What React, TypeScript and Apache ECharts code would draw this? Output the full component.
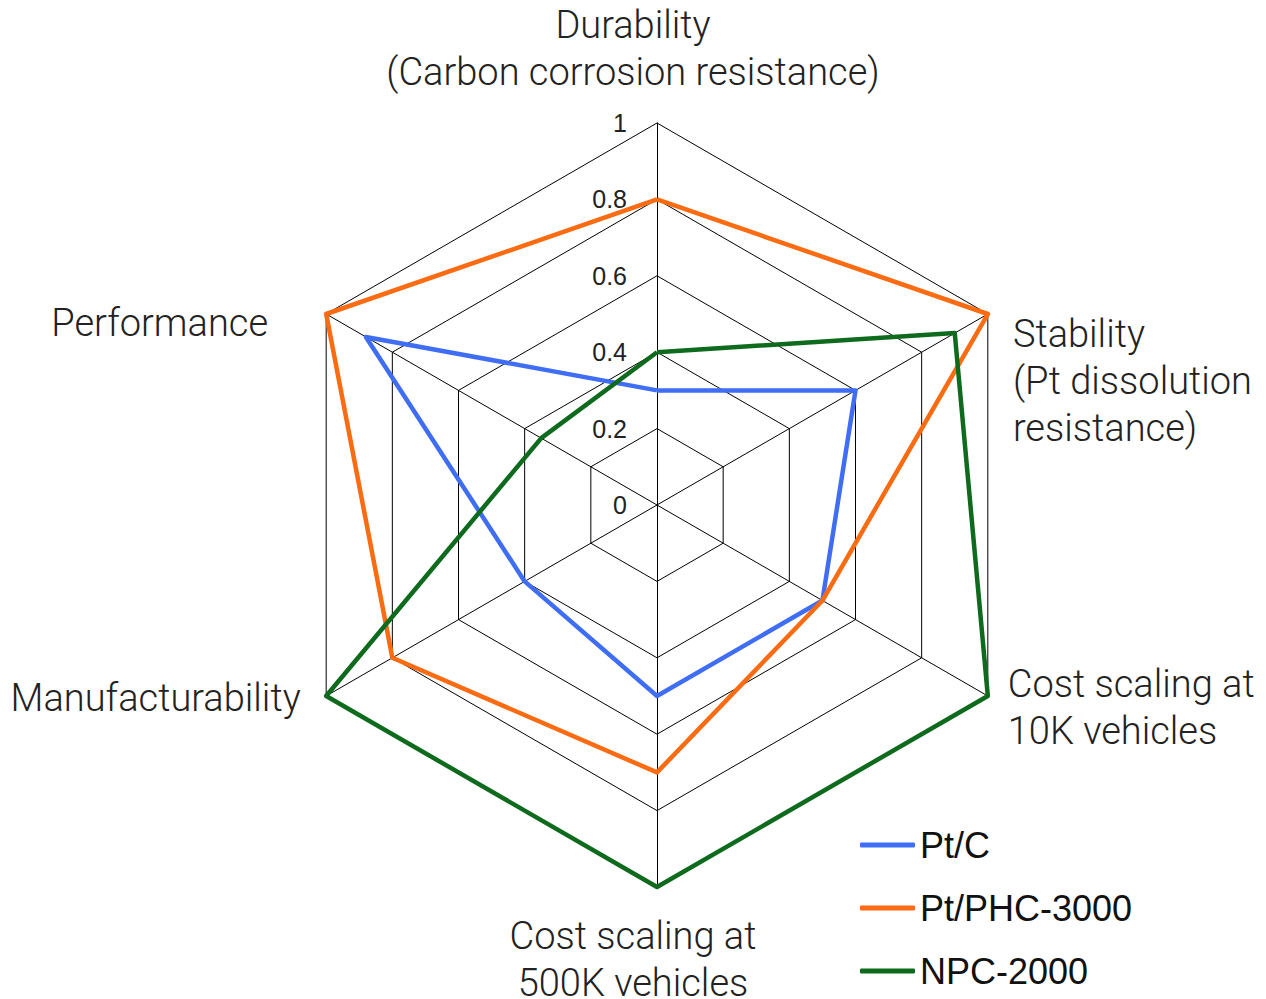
import React, { useEffect, useRef } from "react";
import * as echarts from "echarts";

const indicatorNames = [
  "Durability\n(Carbon corrosion resistance)",
  "Performance",
  "Manufacturability",
  "Cost scaling at\n500K vehicles",
  "Cost scaling at\n10K vehicles",
  "Stability\n(Pt dissolution\nresistance)",
];
const indicatorMax = [1, 1, 1, 1, 1, 1];
const seriesNames = ["Pt/C", "Pt/PHC-3000", "NPC-2000"];
const ptC = [0.3, 0.88, 0.4, 0.5, 0.5, 0.6];
const ptPHC3000 = [0.8, 1.0, 0.8, 0.7, 0.5, 1.0];
const npc2000 = [0.4, 0.35, 1.0, 1.0, 1.0, 0.9];
const seriesColors = ["#3f6ef5", "#fb6b12", "#0e6a1c"];

// per-indicator name placement tweaks
const nameGaps = [28, 29, 4, 25, 23, 7];
const nameVAligns: (string | undefined)[] = [undefined, "top", "middle", undefined, undefined, "top"];
const namePaddings = [
  [0, 48, 0, 0],
  [0, 33, 0, 0],
  [0, 22, 0, 0],
  [0, 48, 0, 0],
  [0, 0, 0, 0],
  [0, 0, 0, 19],
];

export default function App() {
  const ref = useRef<HTMLDivElement>(null);
  useEffect(() => {
    if (!ref.current) return;
    const chart = echarts.init(ref.current, undefined, { renderer: "svg" });
    const values = [ptC, ptPHC3000, npc2000];
    chart.setOption({
      animation: false,
      backgroundColor: "#ffffff",
      legend: {
        orient: "vertical",
        left: 860,
        top: 827,
        padding: 0,
        itemWidth: 55,
        itemHeight: 5,
        itemGap: 27,
        icon: "roundRect",
        data: seriesNames,
        textStyle: {
          fontFamily: "Liberation Sans",
          fontSize: 36,
          color: "#111",
        },
      },
      radar: {
        center: [657, 505],
        radius: 382,
        startAngle: 90,
        shape: "polygon",
        splitNumber: 5,
        axisName: {
          color: "#222",
          fontFamily: "Roboto",
          fontWeight: 300,
          fontSize: 38,
          lineHeight: 47,
        },
        indicator: indicatorNames.map((n, i) => {
          const nts: any = { padding: namePaddings[i] };
          if (nameVAligns[i]) nts.verticalAlign = nameVAligns[i];
          const ind: any = {
            name: n,
            min: 0,
            max: indicatorMax[i],
            nameGap: nameGaps[i],
            nameTextStyle: nts,
          };
          if (i === 0) {
            ind.axisLabel = {
              show: true,
              fontFamily: "Liberation Sans",
              fontSize: 25,
              color: "#222",
              margin: 30,
              showMinLabel: true,
              showMaxLabel: true,
            };
          }
          return ind;
        }),
        axisLine: { lineStyle: { color: "#000", width: 1 } },
        splitLine: { lineStyle: { color: "#000", width: 1 } },
        splitArea: { show: false },
        axisTick: { show: false },
        axisLabel: { show: false },
      },
      series: [
        {
          type: "radar",
          symbol: "none",
          data: values.map((v, i) => ({
            name: seriesNames[i],
            value: v,
            itemStyle: { color: seriesColors[i] },
            lineStyle: { color: seriesColors[i], width: 4.5, join: "round" },
          })),
        },
      ],
    });
    return () => chart.dispose();
  }, []);
  return (
    <div
      ref={ref}
      style={{ position: "fixed", left: 0, top: 0, width: 1266, height: 999 }}
    />
  );
}
